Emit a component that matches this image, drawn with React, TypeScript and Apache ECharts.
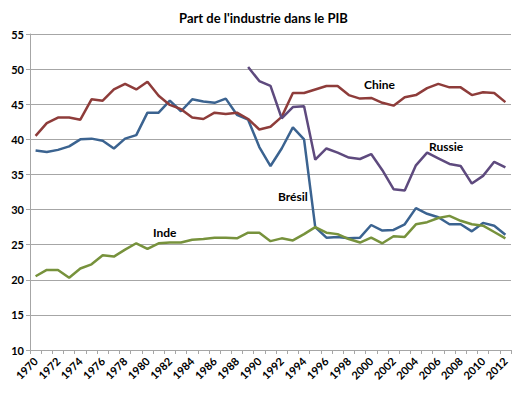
import React, { useEffect, useRef } from "react";
import * as echarts from "echarts";

const years: string[] = [];
for (let y = 1970; y <= 2012; y++) years.push(String(y));

const bresil = [38.4, 38.2, 38.5, 39.0, 40.0, 40.1, 39.8, 38.7, 40.1, 40.6, 43.8, 43.8, 45.5, 44.0, 45.7, 45.4, 45.2, 45.8, 43.5, 42.8, 38.9, 36.2, 38.7, 41.7, 40.0, 27.5, 26.0, 26.1, 25.9, 26.0, 27.8, 27.0, 27.1, 27.9, 30.2, 29.4, 28.9, 27.9, 27.9, 26.9, 28.1, 27.7, 26.4];
const chine = [40.5, 42.3, 43.1, 43.1, 42.8, 45.7, 45.5, 47.1, 47.9, 47.1, 48.2, 46.2, 44.9, 44.3, 43.1, 42.9, 43.8, 43.6, 43.8, 42.9, 41.4, 41.8, 43.2, 46.6, 46.6, 47.1, 47.6, 47.6, 46.3, 45.8, 45.9, 45.2, 44.8, 46.0, 46.3, 47.3, 47.9, 47.4, 47.4, 46.3, 46.7, 46.6, 45.3];
const inde = [20.5, 21.4, 21.4, 20.3, 21.6, 22.2, 23.5, 23.3, 24.3, 25.2, 24.4, 25.2, 25.3, 25.3, 25.7, 25.8, 26.0, 26.0, 25.9, 26.7, 26.7, 25.5, 25.9, 25.6, 26.5, 27.5, 26.7, 26.5, 25.8, 25.3, 26.0, 25.2, 26.2, 26.1, 27.9, 28.2, 28.8, 29.1, 28.4, 27.9, 27.7, 26.8, 25.9];
const russie = [null, null, null, null, null, null, null, null, null, null, null, null, null, null, null, null, null, null, null, 50.3, 48.3, 47.6, 43.0, 44.6, 44.7, 37.1, 38.7, 38.1, 37.4, 37.2, 37.9, 35.6, 32.9, 32.7, 36.3, 38.1, 37.3, 36.5, 36.2, 33.7, 34.8, 36.8, 36.0];

const title = "Part de l'industrie dans le PIB";
const seriesLabels = [
  { text: "Chine", x: 364, y: 78 },
  { text: "Russie", x: 429, y: 140 },
  { text: "Brésil", x: 278, y: 190 },
  { text: "Inde", x: 153, y: 226 },
];

const FONT = "Lato, 'Open Sans', sans-serif";

export default function App() {
  const ref = useRef<HTMLDivElement>(null);
  useEffect(() => {
    document.body.style.margin = "0";
    if (!ref.current) return;
    const chart = echarts.init(ref.current, undefined, { renderer: "svg" });
    const mk = (name: string, data: any[], color: string) => ({
      name,
      type: "line",
      data,
      symbol: "none",
      connectNulls: false,
      lineStyle: { color, width: 2.5 },
      itemStyle: { color },
    });
    chart.setOption({
      animation: false,
      backgroundColor: "#ffffff",
      title: {
        text: title,
        left: "center",
        top: 6,
        textStyle: { fontFamily: FONT, fontSize: 13, fontWeight: "bold", color: "#000" },
      },
      grid: { left: 30, right: 16, top: 34, bottom: 46 },
      xAxis: {
        type: "category",
        data: years,
        boundaryGap: true,
        axisLine: { lineStyle: { color: "#a6a6a6", width: 1 } },
        axisTick: { show: true, interval: 0, length: 4, lineStyle: { color: "#a6a6a6" } },
        axisLabel: {
          interval: 1,
          rotate: 45,
          fontFamily: FONT,
          fontSize: 11,
          fontWeight: "bold",
          color: "#000",
          margin: 9,
        },
        splitLine: { show: false },
      },
      yAxis: {
        type: "value",
        min: 10,
        max: 55,
        interval: 5,
        axisLine: { show: true, lineStyle: { color: "#a6a6a6" } },
        axisTick: { show: true, length: 4, lineStyle: { color: "#a6a6a6" } },
        axisLabel: {
          fontFamily: FONT,
          fontSize: 11,
          fontWeight: "bold",
          color: "#000",
          margin: 6,
        },
        splitLine: { show: true, lineStyle: { color: "#a6a6a6", width: 1 } },
      },
      series: [
        mk("Brésil", bresil, "#3b6390"),
        mk("Chine", chine, "#8e3c3a"),
        mk("Inde", inde, "#77923c"),
        mk("Russie", russie, "#5e4a7e"),
      ],
      graphic: seriesLabels.map((l) => ({
        type: "text",
        left: l.x,
        top: l.y,
        style: {
          text: l.text,
          fontFamily: FONT,
          fontSize: 12,
          fontWeight: "bold",
          fill: "#000",
        },
      })),
    });
    return () => chart.dispose();
  }, []);
  return <div ref={ref} style={{ width: 527, height: 396 }} />;
}
